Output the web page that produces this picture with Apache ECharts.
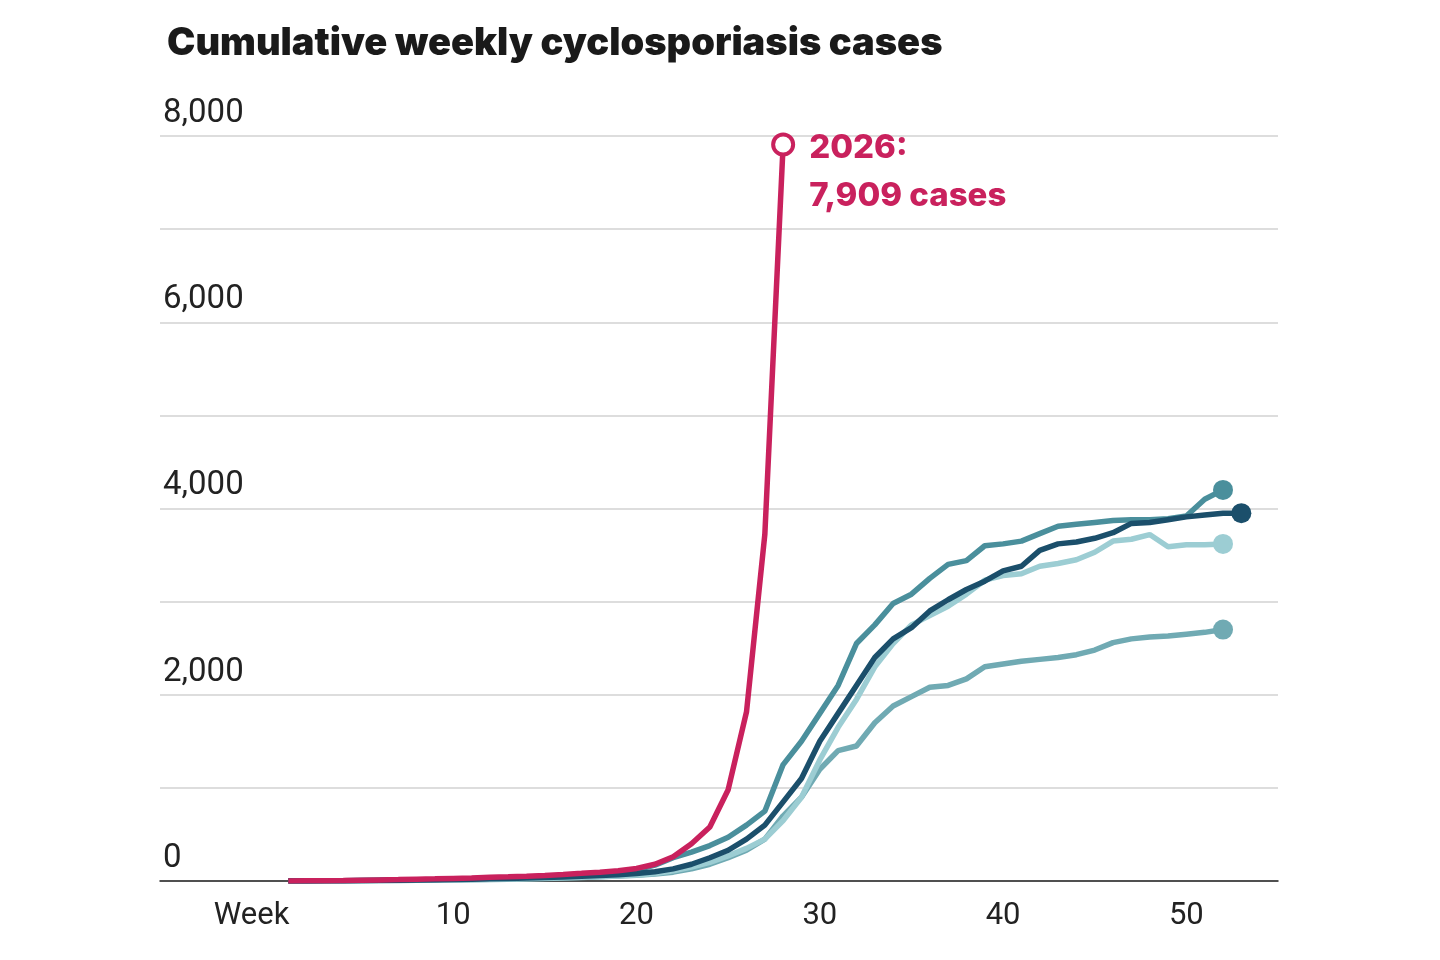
<!DOCTYPE html>
<html><head><meta charset="utf-8">
<script src="https://cdn.jsdelivr.net/npm/echarts@6/dist/echarts.min.js"></script>
<style>html,body{margin:0;background:#fff}#c{width:1440px;height:960px}</style>
</head><body><div id="c"></div>
<script>
const startWeek = 1;
const s2026 = [0,2,4,6,9,12,15,19,23,28,33,39,45,52,60,70,82,95,110,135,180,260,400,580,980,1815,3720,7909];
const sNavy = [0,1,2,3,5,7,9,11,14,17,20,24,28,33,38,44,51,59,68,80,100,130,180,250,330,450,600,850,1100,1500,1800,2100,2400,2600,2720,2900,3020,3130,3220,3330,3380,3550,3620,3640,3680,3740,3840,3850,3880,3910,3930,3950,3950];
const sTeal = [0,1,2,4,6,8,11,14,17,21,25,30,36,43,51,60,70,82,97,120,170,250,310,380,470,600,750,1250,1500,1800,2100,2550,2750,2980,3080,3250,3400,3440,3600,3620,3650,3730,3810,3830,3850,3870,3880,3880,3890,3920,4100,4200];
const sLight = [0,1,1,2,3,4,6,8,10,12,15,18,21,25,29,34,40,47,55,65,80,110,150,200,270,350,450,650,900,1300,1650,1950,2300,2550,2750,2850,2950,3080,3230,3280,3300,3380,3410,3450,3530,3650,3670,3720,3590,3610,3610,3620];
const sMed = [0,1,1,2,3,4,5,7,9,11,13,16,19,23,27,32,38,45,53,62,75,95,130,180,250,330,450,700,900,1200,1400,1450,1700,1880,1980,2080,2100,2170,2300,2330,2360,2380,2400,2430,2480,2560,2600,2620,2630,2650,2670,2700];
const xTicks = [-1,10,20,30,40,50];
const toPts = a => a.map((v,i)=>[startWeek+i, v]);
const last = a => [startWeek+a.length-1, a[a.length-1]];
const defs = [
  {name:'med', d:sMed, c:'#70aab3'},
  {name:'light', d:sLight, c:'#9ccdd3'},
  {name:'teal', d:sTeal, c:'#4a8f9c'},
  {name:'navy', d:sNavy, c:'#1b4f6b'},
  {name:'2026', d:s2026, c:'#c9215d'}
];
const series = [];
defs.forEach(s=>{
  series.push({type:'line', data:toPts(s.d), showSymbol:false, lineStyle:{width:5.5,color:s.c}, itemStyle:{color:s.c}, z:2, silent:true});
  const is26 = s.name==='2026';
  series.push({type:'scatter', data:[last(s.d)], symbolSize:20, z:3, silent:true,
    itemStyle: is26?{color:'#fff',borderColor:s.c,borderWidth:4,opacity:1}:{color:s.c,opacity:1},
    label: is26?{show:true,position:'right',distance:14,offset:[0,28],formatter:'2026:\n'+(s.d[s.d.length-1]).toLocaleString('en-US')+' cases',
      color:s.c,fontSize:33,fontWeight:800,fontFamily:'Inter',lineHeight:48,align:'left'}:{show:false}});
});
const chart = echarts.init(document.getElementById('c'));
chart.setOption({
  animation:false,
  title:{text:'Cumulative weekly cyclosporiasis cases',left:162,top:20,textStyle:{fontSize:38,fontWeight:900,color:'#1a1a1a',fontFamily:'Inter'}},
  grid:{left:160,right:162,top:136,bottom:79,containLabel:false},
  xAxis:{type:'value',min:-6,max:55,splitLine:{show:false},
    axisLine:{lineStyle:{color:'#222',width:1.5}},axisTick:{show:false},
    axisLabel:{customValues:xTicks,formatter:v=>v===-1?'Week':String(v),fontSize:31,color:'#222',fontFamily:'Roboto',margin:20}},
  yAxis:{type:'value',min:0,max:8000,interval:1000,axisLine:{show:false},axisTick:{show:false},
    splitLine:{lineStyle:{color:'#ddd',width:2}},
    axisLabel:{inside:true,margin:3,verticalAlign:'bottom',padding:[0,0,6,0],fontSize:33,color:'#222',fontFamily:'Roboto',
      formatter:v=>v%2000===0?v.toLocaleString('en-US'):''}},
  series
});
</script></body></html>
